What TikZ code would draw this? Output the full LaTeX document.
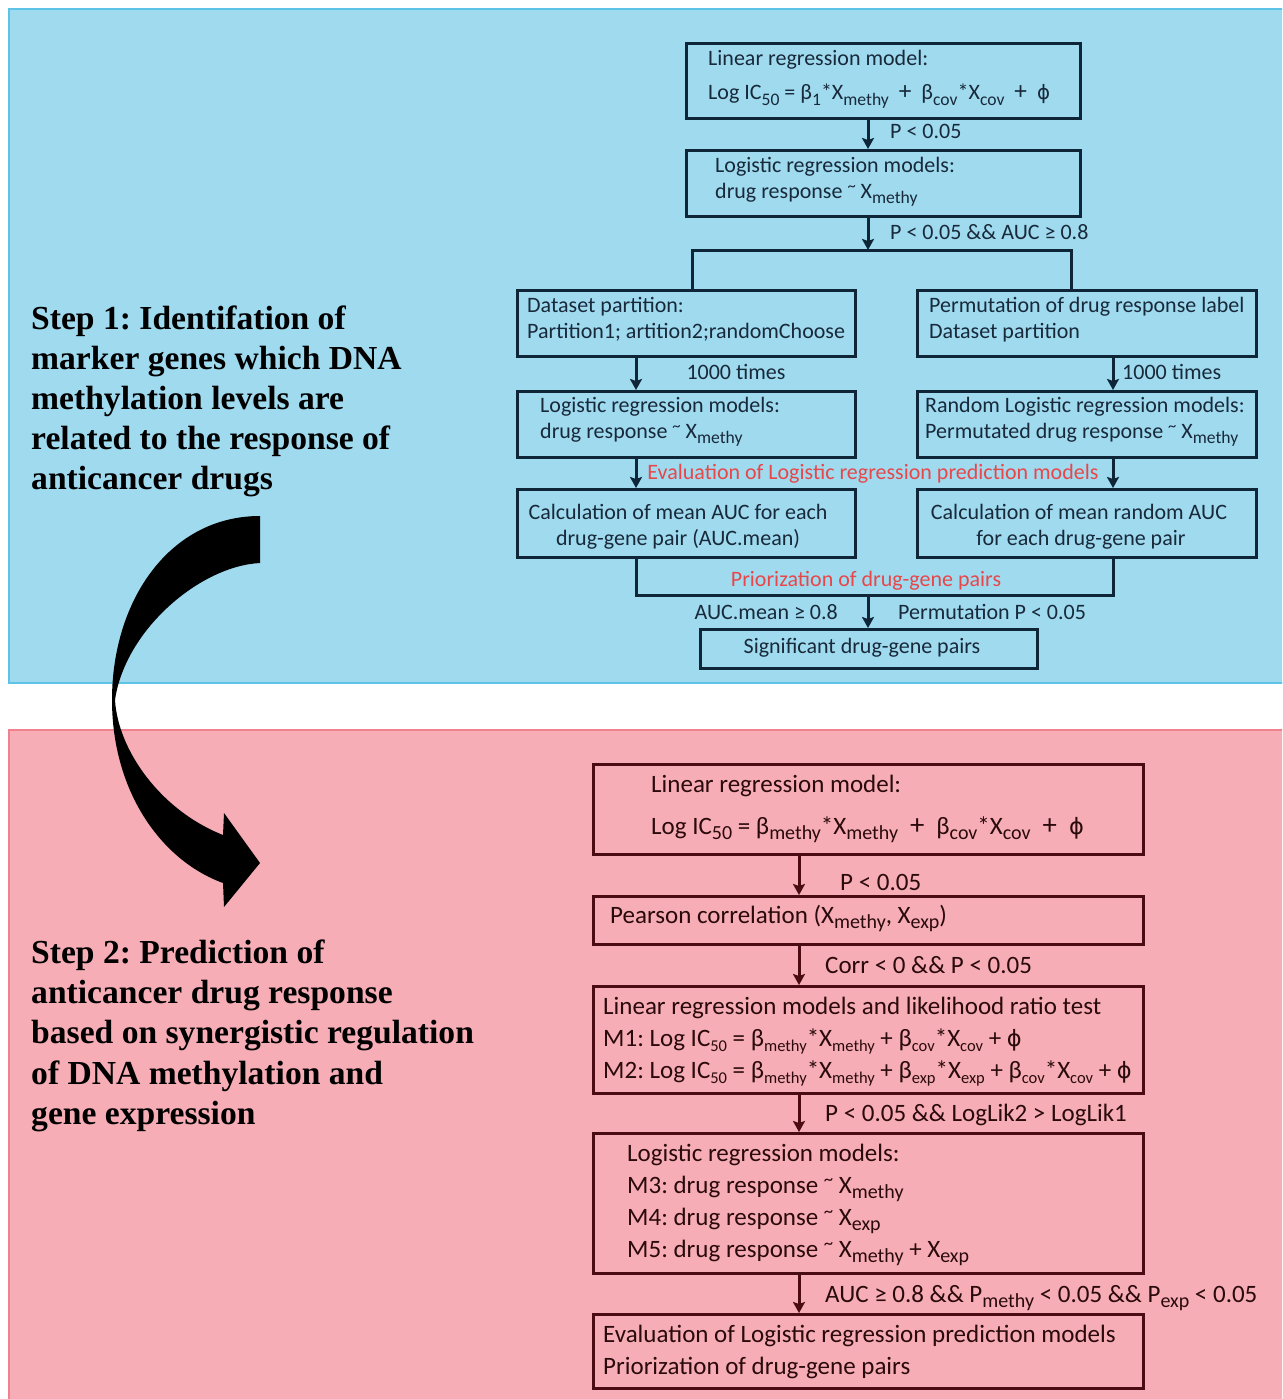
\documentclass[tikz,border=0pt]{standalone}
\usepackage{fontspec}
\setmainfont{Carlito}
\newfontfamily\stepfont{Liberation Serif}
\newfontfamily\phifont{DejaVu Sans}
\usetikzlibrary{arrows.meta}
\definecolor{bluebg}{HTML}{9FDAEF}
\definecolor{blueedge}{HTML}{5DC4E8}
\definecolor{pinkbg}{HTML}{F7ADB5}
\definecolor{pinkedge}{HTML}{F0828F}
\definecolor{navy}{HTML}{0E2638}
\definecolor{maroon}{HTML}{4A0C12}
\definecolor{redlab}{HTML}{E8474A}
\definecolor{bluetxt}{HTML}{18293A}
\definecolor{pinktxt}{HTML}{2A0A0C}
\newcommand{\lo}[1]{\raisebox{-0.23em}{\scalebox{0.8}{#1}}}
\newcommand{\los}[1]{\raisebox{-0.2em}{\scalebox{0.66}{#1}}}
\newcommand{\tl}{\raisebox{0.3em}{\scalebox{0.75}{\textasciitilde}}}
\newcommand{\fy}{{\phifont\scalebox{0.9}{ϕ}}}
\newcommand{\wplus}[1]{\hspace{#1}\scalebox{1.15}{+}\hspace{#1}}
\frenchspacing
\begin{document}
\begin{tikzpicture}[x=1pt,y=-1pt,
  bbox/.style={draw=navy, line width=3.4pt, inner sep=0pt, anchor=north west},
  pbox/.style={draw=maroon, line width=3.4pt, inner sep=0pt, anchor=north west},
  btxt/.style={font=\fontsize{22}{26}\selectfont, text=bluetxt, inner sep=0pt, anchor=base west},
  bctr/.style={btxt, anchor=base},
  rtxt/.style={btxt, text=redlab, anchor=base},
  ptxt/.style={font=\fontsize{25}{30}\selectfont, text=pinktxt, inner sep=0pt, anchor=base west},
  steptxt/.style={font=\stepfont\bfseries\fontsize{33.6}{40}\selectfont, text=black, inner sep=0pt, anchor=base west},
  barr/.style={draw=navy, line width=3pt, -{Stealth[length=11pt,width=12pt,inset=2pt]}},
  bln/.style={draw=navy, line width=3pt},
  parr/.style={draw=maroon, line width=3pt, -{Stealth[length=11pt,width=12pt,inset=2pt]}}
]
\path[use as bounding box] (0,0) rectangle (1282,1399);
\clip (0,0) rectangle (1282,1399);
\fill[white] (0,0) rectangle (1282,1399);
% panels
\filldraw[fill=bluebg, draw=blueedge, line width=2pt] (9,9) rectangle (1300,683);
\filldraw[fill=pinkbg, draw=pinkedge, line width=2pt] (9,730) rectangle (1300,1410);

% helper x coordinates
\coordinate (xa) at (868,0);
\coordinate (xl) at (636,0);
\coordinate (xr) at (1113,0);
\coordinate (xbl) at (692,0);
\coordinate (xbr) at (1071,0);
\coordinate (xp) at (799,0);
\coordinate (j1) at (868,250);
\coordinate (j2) at (868,595);

% ---------- blue panel boxes ----------
\node[bbox, minimum width=394pt, minimum height=75pt] (b1) at (685,42) {};
\node[bbox, minimum width=394pt, minimum height=66pt] (b2) at (685,149) {};
\node[bbox, minimum width=338pt, minimum height=66pt] (b3l) at (516,289) {};
\node[bbox, minimum width=339pt, minimum height=66pt] (b3r) at (916,289) {};
\node[bbox, minimum width=338pt, minimum height=66pt] (b4l) at (516,390) {};
\node[bbox, minimum width=339pt, minimum height=66pt] (b4r) at (916,390) {};
\node[bbox, minimum width=338pt, minimum height=68pt] (b5l) at (516,488) {};
\node[bbox, minimum width=339pt, minimum height=68pt] (b5r) at (916,488) {};
\node[bbox, minimum width=337pt, minimum height=39pt] (b6) at (699,628) {};

\node[btxt] (t1a) at (708,66) {Linear regression model:};
\node[btxt] (t1b) at (708,100) {Log IC\lo{50} = β\lo{1}*X\lo{methy}\wplus{10pt}β\lo{cov}*X\lo{cov}\wplus{10pt}\fy};
\node[btxt] (t2a) at (715,172) {Logistic regression models:};
\node[btxt] (t2b) at (715,198) {drug response \tl\ X\lo{methy}};
\node[btxt] (t3la) at (527,312) {Dataset partition:};
\node[btxt] (t3lb) at (527,338) {Partition1; artition2;randomChoose};
\node[btxt] (t3ra) at (929,312) {Permutation of drug response label};
\node[btxt] (t3rb) at (929,338) {Dataset partition};
\node[btxt] (t4la) at (540,412) {Logistic regression models:};
\node[btxt] (t4lb) at (540,438) {drug response \tl\ X\lo{methy}};
\node[btxt] (t4ra) at (925,412) {Random Logistic regression models:};
\node[btxt] (t4rb) at (925,438) {Permutated drug response \tl\ X\lo{methy}};
\node[bctr] (t5la) at (678,519) {Calculation of mean AUC for each};
\node[bctr] (t5lb) at (678,545) {drug-gene pair (AUC.mean)};
\node[bctr] (t5ra) at (1079,519) {Calculation of mean random AUC};
\node[bctr] (t5rb) at (1081,545) {for each drug-gene pair};
\node[bctr] (t6) at (862,653) {Significant drug-gene pairs};

% blue connectors
\draw[barr] (b1.south -| xa) -- (b2.north -| xa);
\node[btxt] (l1) at (890,139) {P < 0.05};
\draw[barr] (b2.south -| xa) -- (j1);
\node[btxt] (l2) at (890,239) {P < 0.05 \&\& AUC ≥ 0.8};
\draw[bln] (b3l.north -| xbl) |- (j1) -| (b3r.north -| xbr);
\draw[barr] (b3l.south -| xl) -- (b4l.north -| xl);
\node[bctr] (l3) at (736,379) {1000 times};
\draw[barr] (b3r.south -| xr) -- (b4r.north -| xr);
\node[btxt] (l4) at (1122,379) {1000 times};
\draw[barr] (b4l.south -| xl) -- (b5l.north -| xl);
\draw[barr] (b4r.south -| xr) -- (b5r.north -| xr);
\node[rtxt] (l5) at (873,479) {Evaluation of Logistic regression prediction models};
\draw[bln] (b5l.south -| xl) |- (j2) -| (b5r.south -| xr);
\node[rtxt] (l6) at (866,586) {Priorization of drug-gene pairs};
\draw[barr] (j2) -- (b6.north -| j2);
\node[btxt, anchor=base east] (l7) at (838,619) {AUC.mean ≥ 0.8};
\node[btxt] (l8) at (898,619) {Permutation P < 0.05};

% ---------- pink panel boxes ----------
\node[pbox, minimum width=550pt, minimum height=90pt] (p1) at (592,763) {};
\node[pbox, minimum width=550pt, minimum height=48pt] (p2) at (592,895) {};
\node[pbox, minimum width=550pt, minimum height=107pt] (p3) at (592,985) {};
\node[pbox, minimum width=550pt, minimum height=140pt] (p4) at (592,1132) {};
\node[pbox, minimum width=550pt, minimum height=74pt] (p5) at (592,1313) {};

\node[ptxt] (q1a) at (651,792) {Linear regression model:};
\node[ptxt] (q1b) at (651,834) {Log IC\lo{50} = β\lo{methy}*X\lo{methy}\wplus{12pt}β\lo{cov}*X\lo{cov}\wplus{12pt}\fy};
\node[ptxt] (q2a) at (610,923) {Pearson correlation (X\lo{methy}, X\lo{exp})};
\node[ptxt] (q3a) at (603,1014) {Linear regression models and likelihood ratio test};
\node[ptxt] (q3b) at (603,1046) {M1: Log IC\los{50} = β\los{methy}*X\los{methy} + β\los{cov}*X\los{cov} + \fy};
\node[ptxt] (q3c) at (603,1078) {M2: Log IC\los{50} = β\los{methy}*X\los{methy} + β\los{exp}*X\los{exp} + β\los{cov}*X\los{cov} + \fy};
\node[ptxt] (q4a) at (627,1161) {Logistic regression models:};
\node[ptxt] (q4b) at (627,1193) {M3: drug response \tl\ X\lo{methy}};
\node[ptxt] (q4c) at (627,1225) {M4: drug response \tl\ X\lo{exp}};
\node[ptxt] (q4d) at (627,1257) {M5: drug response \tl\ X\lo{methy} + X\lo{exp}};
\node[ptxt] (q5a) at (603,1342) {Evaluation of Logistic regression prediction models};
\node[ptxt] (q5b) at (603,1374) {Priorization of drug-gene pairs};

\draw[parr] (p1.south -| xp) -- (p2.north -| xp);
\node[ptxt] (m1) at (840,890) {P < 0.05};
\draw[parr] (p2.south -| xp) -- (p3.north -| xp);
\node[ptxt] (m2) at (825,973) {Corr < 0 \&\& P < 0.05};
\draw[parr] (p3.south -| xp) -- (p4.north -| xp);
\node[ptxt] (m3) at (825,1121) {P < 0.05 \&\& LogLik2 > LogLik1};
\draw[parr] (p4.south -| xp) -- (p5.north -| xp);
\node[ptxt] (m4) at (825,1302) {AUC ≥ 0.8 \&\& P\lo{methy} < 0.05 \&\& P\lo{exp} < 0.05};

% ---------- step texts ----------
\node[steptxt] (s1a) at (31,329) {Step 1: Identifation of};
\node[steptxt] (s1b) at (31,369) {marker genes which DNA};
\node[steptxt] (s1c) at (31,409) {methylation levels are};
\node[steptxt] (s1d) at (31,449) {related to the response of};
\node[steptxt] (s1e) at (31,489) {anticancer drugs};
\node[steptxt] (s2a) at (31,963) {Step 2: Prediction of};
\node[steptxt] (s2b) at (31,1003) {anticancer drug response};
\node[steptxt] (s2c) at (31,1043) {based on synergistic regulation};
\node[steptxt] (s2d) at (31,1084) {of DNA methylation and};
\node[steptxt] (s2e) at (31,1124) {gene expression};

% ---------- big curved arrow ----------
\fill[black] (260,516) .. controls (170,516) and (112,600) .. (112,700)
  .. controls (112,790) and (160,860) .. (223,883)
  -- (224,907) -- (260,863) -- (224,813) -- (223,835)
  .. controls (160,810) and (118,750) .. (115,700)
  .. controls (125,630) and (200,566) .. (260,563) -- cycle;
\end{tikzpicture}
\end{document}
